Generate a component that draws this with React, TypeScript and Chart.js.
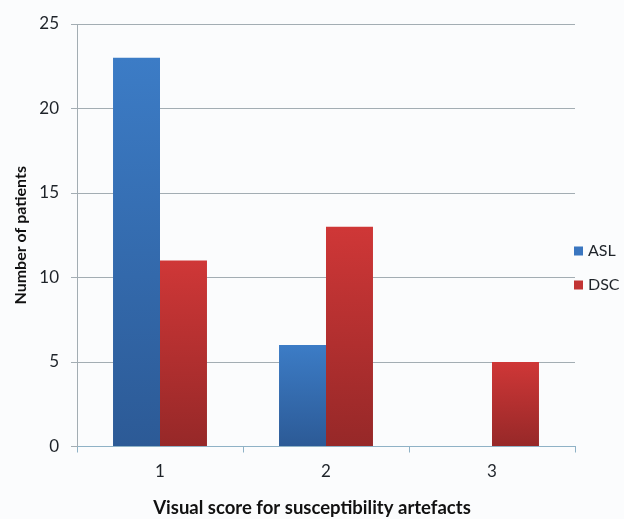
import React, { useEffect, useRef } from "react";
import { Chart, registerables } from "chart.js";

Chart.register(...registerables);

// Visual susceptibility artefact scores per perfusion method
const scoreLabels = ["1", "2", "3"];
const aslPatients = [23, 6, 0];
const dscPatients = [11, 13, 5];
const seriesNames = ["ASL", "DSC"];
const xCaption = "Visual score for susceptibility artefacts";
const yCaption = "Number of patients";

const FONT = "Lato, 'Open Sans', 'DejaVu Sans', sans-serif";
const TEXT = "#1e2329";

const BLUE_TOP = "#3c7cc6";
const BLUE_BOTTOM = "#2c5a96";
const RED_TOP = "#cf3737";
const RED_BOTTOM = "#962828";

function barGradient(top: string, bottom: string) {
  return (ctx: any) => {
    const chart = ctx.chart;
    const { chartArea, scales } = chart;
    if (!chartArea || !scales.y) return top;
    const v = typeof ctx.raw === "number" ? ctx.raw : 0;
    const y0 = scales.y.getPixelForValue(v);
    const y1 = scales.y.getPixelForValue(0);
    if (!(y1 > y0)) return top;
    const g = chart.ctx.createLinearGradient(0, y0, 0, y1);
    g.addColorStop(0, top);
    g.addColorStop(1, bottom);
    return g;
  };
}

// Light panel background behind the whole chart
const backgroundPlugin = {
  id: "panelBackground",
  beforeDraw(chart: any) {
    const { ctx, width, height } = chart;
    ctx.save();
    ctx.fillStyle = "#fbfcfd";
    ctx.fillRect(0, 0, width, height);
    ctx.restore();
  },
};

// Side legend: small squares with series names, right of the plot,
// plus the category-axis caption centred across the whole figure
const decorationsPlugin = {
  id: "decorations",
  afterDraw(chart: any) {
    const { ctx, chartArea, width, height } = chart;
    const x = chartArea.right - 1;
    const firstY = chartArea.top + 227;
    const step = 34;
    ctx.save();
    ctx.font = `16px ${FONT}`;
    ctx.textBaseline = "middle";
    ctx.textAlign = "left";
    chart.data.datasets.forEach((ds: any, i: number) => {
      const cy = firstY + i * step;
      ctx.fillStyle = ds.legendColor;
      ctx.fillRect(x, cy - 4.5, 9, 9);
      ctx.fillStyle = TEXT;
      ctx.fillText(ds.label, x + 14, cy);
    });

    ctx.font = `bold 18.5px ${FONT}`;
    ctx.textAlign = "center";
    ctx.fillStyle = "#111";
    ctx.fillText(xCaption, width / 2, height - 11);
    ctx.restore();
  },
};

export default function App() {
  const canvasRef = useRef<HTMLCanvasElement | null>(null);

  useEffect(() => {
    if (!canvasRef.current) return;
    const chart = new Chart(canvasRef.current, {
      type: "bar",
      data: {
        labels: scoreLabels,
        datasets: [
          {
            label: seriesNames[0],
            data: aslPatients,
            backgroundColor: barGradient(BLUE_TOP, BLUE_BOTTOM),
            legendColor: "#3a76c0",
            borderWidth: 0,
          } as any,
          {
            label: seriesNames[1],
            data: dscPatients,
            backgroundColor: barGradient(RED_TOP, RED_BOTTOM),
            legendColor: "#c23434",
            borderWidth: 0,
          } as any,
        ],
      },
      options: {
        responsive: true,
        maintainAspectRatio: false,
        animation: false,
        layout: { padding: { top: 24, right: 49, bottom: 0, left: 0 } },
        plugins: {
          legend: { display: false },
          tooltip: { enabled: false },
        },
        datasets: {
          bar: { categoryPercentage: 0.566, barPercentage: 1 },
        },
        scales: {
          x: {
            grid: {
              display: true,
              drawOnChartArea: false,
              drawTicks: true,
              tickLength: 6,
              color: "#8fb2c6",
            },
            border: { display: true, color: "#8fb2c6", width: 1 },
            ticks: {
              color: TEXT,
              font: { family: FONT, size: 17 },
              padding: 9,
            },
            afterFit: (scale: any) => {
              scale.height = 72.5;
            },
          },
          y: {
            min: 0,
            max: 25,
            ticks: {
              stepSize: 5,
              color: TEXT,
              font: { family: FONT, size: 17 },
              padding: 12,
            },
            grid: {
              color: "#a3adb3",
              tickLength: 6,
            },
            border: { display: true, color: "#a3adb3" },
            title: {
              display: true,
              text: yCaption,
              color: "#111",
              font: { family: FONT, size: 16, weight: "bold" },
              padding: { top: 11, bottom: 0 },
            },
            afterFit: (scale: any) => {
              scale.width = 77;
            },
          },
        },
      } as any,
      plugins: [backgroundPlugin, decorationsPlugin],
    });
    return () => chart.destroy();
  }, []);

  return (
    <div
      style={{
        position: "fixed",
        left: 0,
        top: 0,
        width: 624,
        height: 519,
        background: "#ffffff",
      }}
    >
      <canvas ref={canvasRef} />
    </div>
  );
}
